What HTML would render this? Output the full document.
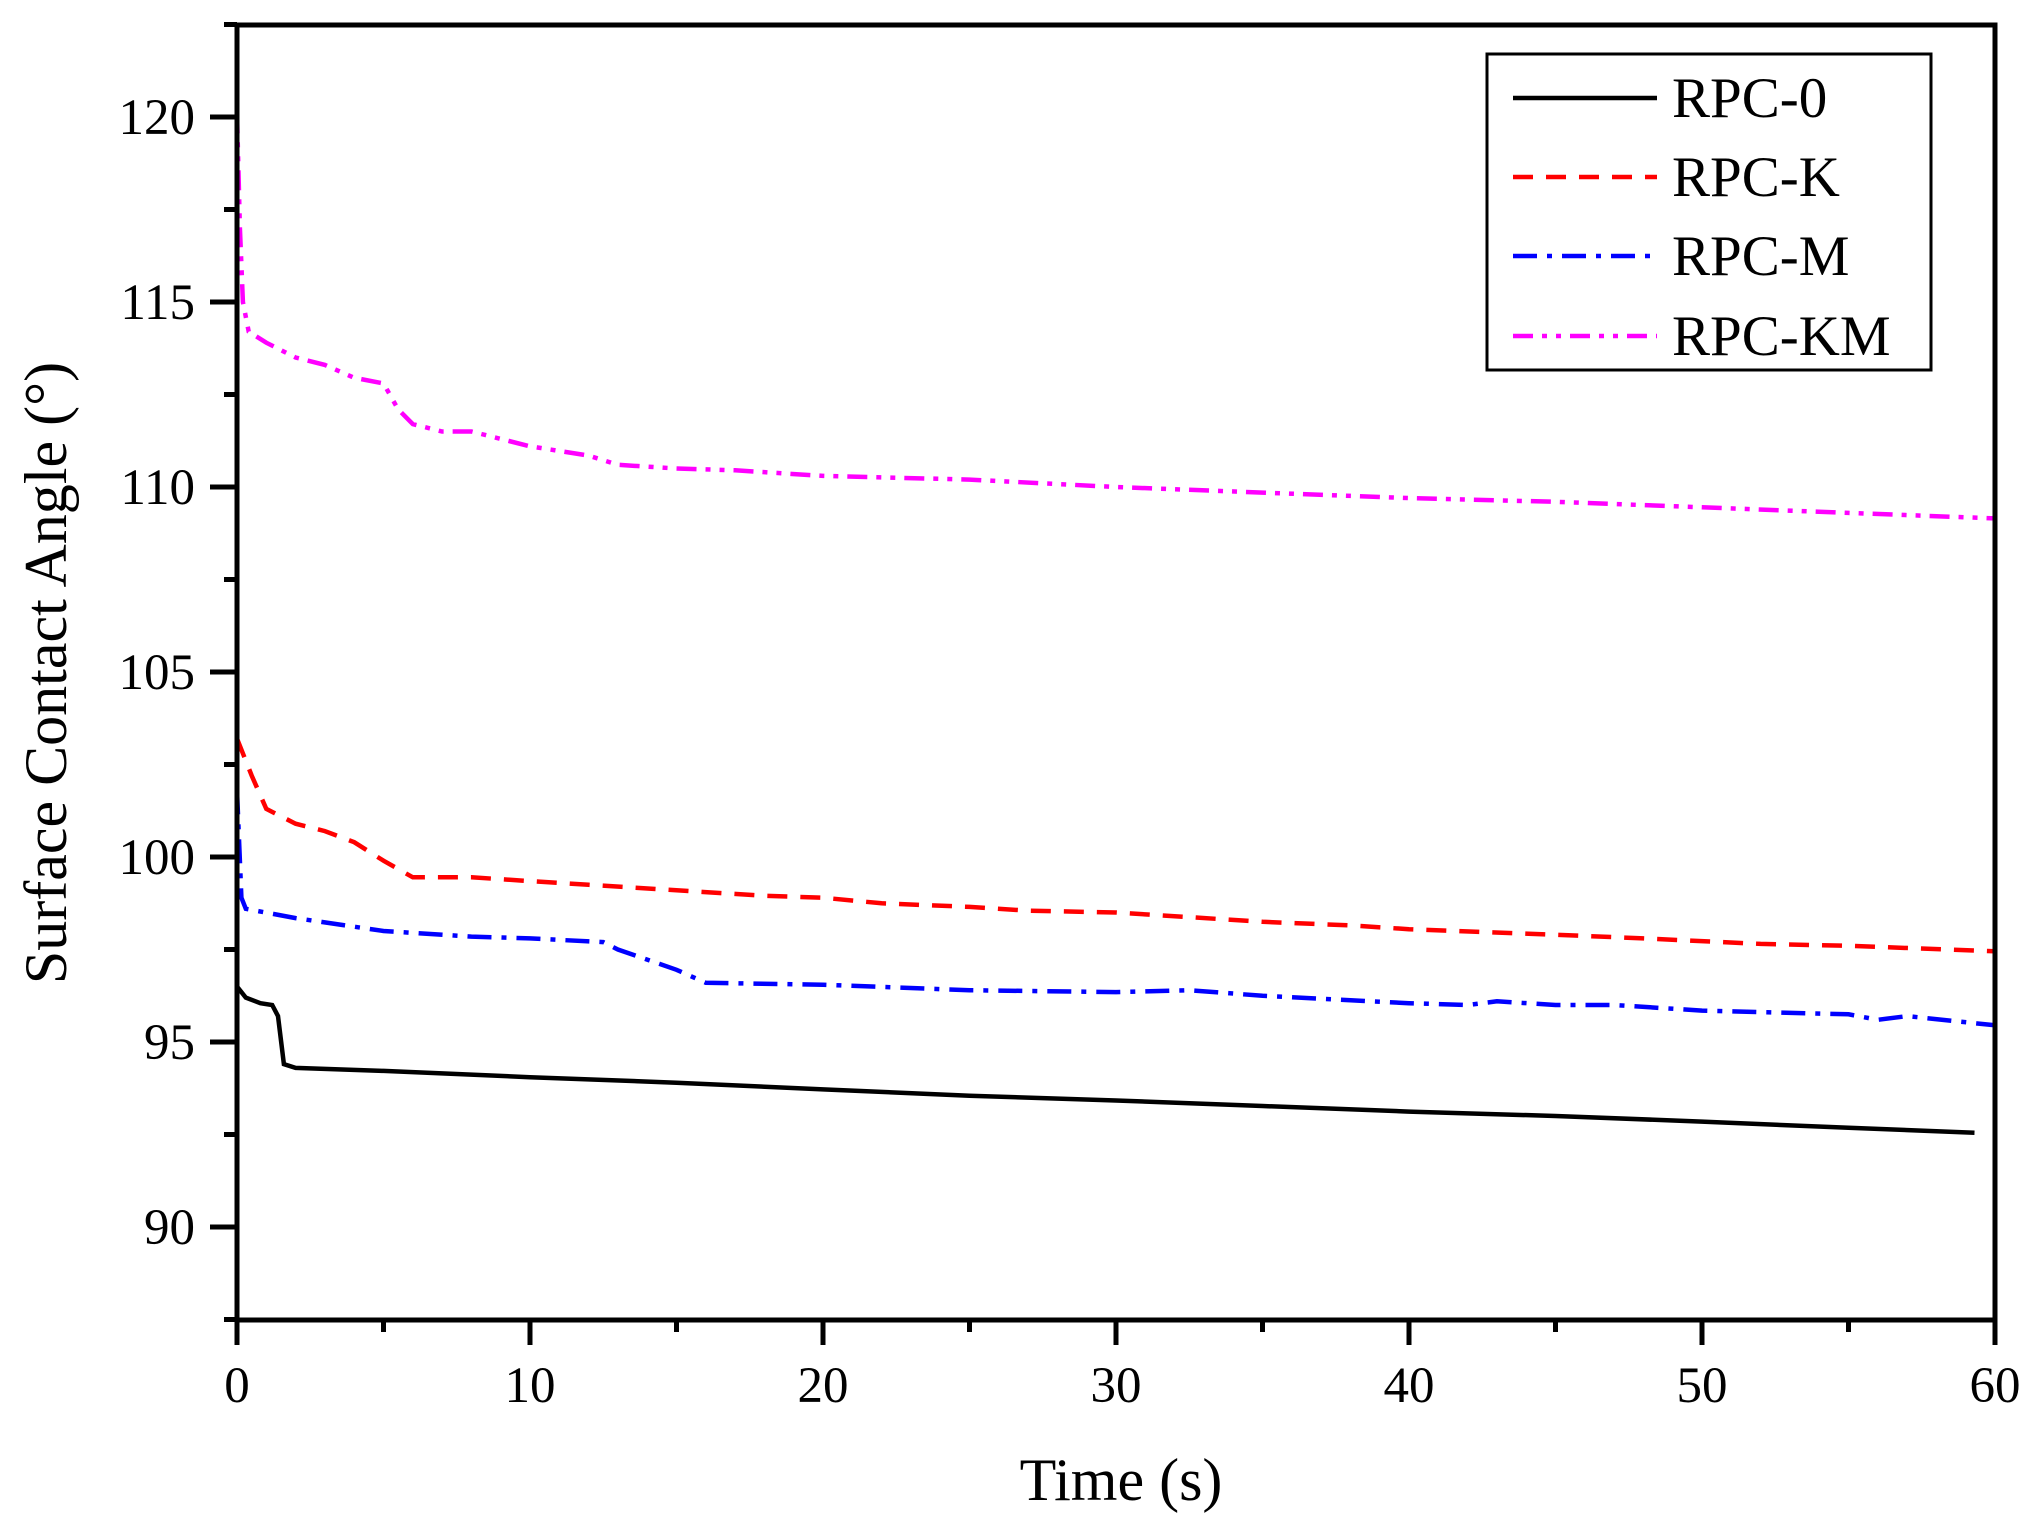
<!DOCTYPE html>
<html><head><meta charset="utf-8"><style>
html,body{margin:0;padding:0;background:#fff;}
svg{display:block;font-family:"Liberation Serif",serif;}
</style></head><body>
<svg id="chart" width="2040" height="1532" viewBox="0 0 2040 1532">
<g id="series"></g>
<g id="axes"></g>
<text x="1121" y="1500" font-size="60" text-anchor="middle">Time (s)</text>
<text transform="translate(66,673) rotate(-90)" font-size="60" text-anchor="middle">Surface Contact Angle (°)</text>
<g>
<rect x="1487" y="54" width="444" height="316" fill="#fff" stroke="#000" stroke-width="3"/>
<g id="legend-entries"></g>
</g>
</svg>
<script>
const names = ["RPC-0","RPC-K","RPC-M","RPC-KM"];
const x0 = [0,0.3,0.8,1.2,1.4,1.6,2,5,10,15,20,25,30,35,40,45,50,55,59.3];
const y0 = [96.5,96.2,96.05,96.0,95.7,94.4,94.3,94.22,94.05,93.9,93.72,93.55,93.42,93.27,93.12,93.0,92.85,92.68,92.55];
const xK = [0,0.5,1,2,3,4,5,6,8,10,12,15,18,20,22,25,27,30,32,35,38,40,45,48,52,55,60];
const yK = [103.2,102.2,101.3,100.9,100.7,100.4,99.9,99.45,99.45,99.35,99.25,99.1,98.95,98.9,98.75,98.65,98.55,98.5,98.4,98.25,98.15,98.05,97.9,97.8,97.65,97.6,97.45];
const xM = [0,0.15,0.3,2,5,8,10,12.5,13,15,16,20,25,30,32.5,35,40,42,43,45,47,50,55,56,57,60];
const yM = [101.8,98.9,98.6,98.35,98.0,97.85,97.8,97.7,97.5,96.95,96.6,96.55,96.4,96.35,96.4,96.25,96.05,96.0,96.1,96.0,96.0,95.85,95.75,95.6,95.7,95.45];
const xKM = [0,0.1,0.2,0.4,1,2,3,4,5,5.5,6,7,8,9,10,12,13,15,17,20,25,30,35,40,45,50,55,60];
const yKM = [120.1,117,115,114.2,113.9,113.5,113.3,112.95,112.8,112.1,111.7,111.5,111.5,111.3,111.1,110.85,110.6,110.5,110.45,110.3,110.2,110.0,109.85,109.7,109.6,109.45,109.3,109.15];
const xTicks = [0,10,20,30,40,50,60];
const yTicks = [90,95,100,105,110,115,120];

const NS="http://www.w3.org/2000/svg";
const L=237,R=1995,T=25,B=1320;
const X=v=>L+(v-0)*(R-L)/60;
const Y=v=>117+(120-v)*37.0;
function mk(tag,attrs,parent){const e=document.createElementNS(NS,tag);for(const k in attrs)e.setAttribute(k,attrs[k]);parent.appendChild(e);return e;}
const axes=document.getElementById('axes');
const sg=document.getElementById('series');
const styles=[
 {c:"#000",d:""},
 {c:"#ff0000",d:"20 13"},
 {c:"#0000ff",d:"24 10 5 10"},
 {c:"#ff00ff",d:"20 9 5 9 5 9"}];
const xs=[x0,xK,xM,xKM], ys=[y0,yK,yM,yKM];
for(let s=0;s<4;s++){
 const p=xs[s].map((v,i)=>(i?"L":"M")+X(v).toFixed(1)+","+Y(ys[s][i]).toFixed(1)).join(" ");
 const e=mk('path',{d:p,fill:"none",stroke:styles[s].c,"stroke-width":4.5,"stroke-dasharray":styles[s].d},sg);
 
 
}
const fr=mk('rect',{x:L,y:T,width:R-L,height:B-T,fill:"none",stroke:"#000","stroke-width":5},axes);


for(const t of xTicks){
 const e=mk('line',{x1:X(t),x2:X(t),y1:B,y2:B+25,stroke:"#000","stroke-width":5},axes);
 
 
 const tx=mk('text',{x:X(t),y:B+82,"font-size":51,"text-anchor":"middle"},axes);
 tx.textContent=t;
 
 
 if(t<60){const m=mk('line',{x1:X(t+5),x2:X(t+5),y1:B,y2:B+12,stroke:"#000","stroke-width":5},axes);
 
 }
}
for(const t of yTicks){
 const e=mk('line',{x1:L-27,x2:L,y1:Y(t),y2:Y(t),stroke:"#000","stroke-width":5},axes);
 
 
 const tx=mk('text',{x:L-42,y:Y(t)+17,"font-size":51,"text-anchor":"end"},axes);
 tx.textContent=t;
 
 
}
for(const t of [87.5,92.5,97.5,102.5,107.5,112.5,117.5,122.5]){
 const m=mk('line',{x1:L-13,x2:L,y1:Y(t),y2:Y(t),stroke:"#000","stroke-width":5},axes);
 
 
}
const lg=document.getElementById('legend-entries');
const ly=[98,177,256,336];
for(let s=0;s<4;s++){
 const l=mk('line',{x1:1513,x2:1657,y1:ly[s],y2:ly[s],stroke:styles[s].c,"stroke-width":4.5,"stroke-dasharray":styles[s].d},lg);
 
 
 const t=mk('text',{x:1672,y:ly[s]+19,"font-size":57},lg);
 t.textContent=names[s];
 
 
}
</script>
</body></html>
